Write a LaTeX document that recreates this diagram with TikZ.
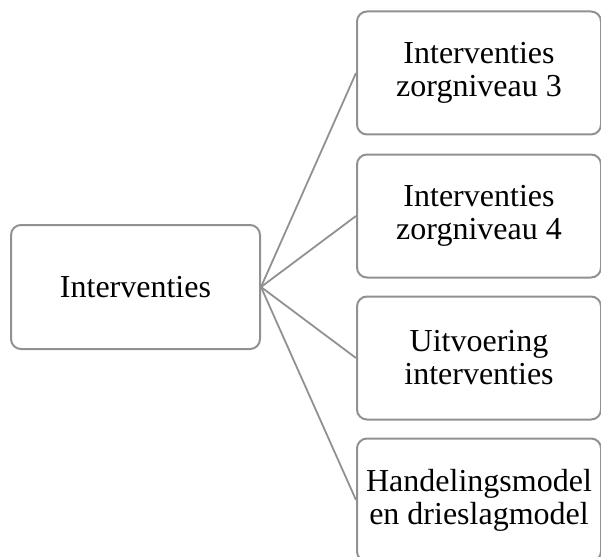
\documentclass[tikz,border=0pt]{standalone}
\usepackage{fontspec}
\setmainfont{Liberation Serif}
\definecolor{boxgray}{RGB}{145,145,145}
\tikzset{
  box/.style={draw=boxgray, line width=2pt, rounded corners=10pt, fill=white,
    align=center, font=\fontsize{32}{33}\selectfont, inner sep=2pt},
  rootbox/.style={box, minimum width=249pt, minimum height=124pt},
  childbox/.style={box, minimum width=244pt, minimum height=123pt},
  link/.style={draw=boxgray, line width=1.8pt}
}
\begin{document}
\begin{tikzpicture}[x=1pt, y=-1pt]
        \useasboundingbox (0,0) rectangle (601,556);
        \clip (0,0) rectangle (601,556);

        \node[rootbox] (root) at (135.5,287) {Interventies};

        \node[childbox] (zorg3) at (479,73) {Interventies\\zorgniveau 3};
        \node[childbox] (zorg4) at (479,216) {Interventies\\zorgniveau 4};
        \node[childbox] (uitvoering) at (479,358) {Uitvoering\\interventies};
        \node[childbox] (model) at (479,500) {Handelingsmodel\\en drieslagmodel};

        \draw[link] (root.east) -- (zorg3.west);
        \draw[link] (root.east) -- (zorg4.west);
        \draw[link] (root.east) -- (uitvoering.west);
        \draw[link] (root.east) -- (model.west);
    \end{tikzpicture}
\end{document}
